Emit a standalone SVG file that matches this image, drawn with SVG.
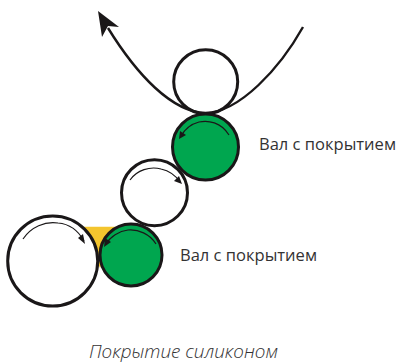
<svg xmlns="http://www.w3.org/2000/svg" width="396" height="363" viewBox="0 0 396 363">
<style>
.roll{stroke:#1a1718;stroke-width:3}
.white{fill:#fff}
.green{fill:#00a64f}
.rot{fill:none;stroke:#1a1718;stroke-width:1.2}
.head{fill:#1a1718}
text{font-family:"Open Sans","Noto Sans",sans-serif;fill:#333233}
.lab{font-size:16px}
.cap{font-size:18.500px;font-style:italic;font-weight:300}
</style>
<rect width="396" height="363" fill="#fff"/>
<g id="silicone"><path d="M83 226.7H116L100 268Z" fill="#f4c52e"/></g>
<g id="roller-top"><circle class="roll white" cx="205.7" cy="81.7" r="32"/></g>
<g id="roller-coated-1"><circle class="roll green" cx="205.5" cy="147" r="33"/></g>
<g id="roller-middle"><circle class="roll white" cx="154.5" cy="192.7" r="33"/></g>
<g id="roller-coated-2"><circle class="roll green" cx="131" cy="255" r="31"/></g>
<g id="roller-large"><circle class="roll white" cx="52.7" cy="261" r="45"/></g>
<g id="connectors">
<path d="M303 27C280 68 240 112 205.500 113C172 112 137 75 108 28" fill="none" stroke="#1a1718" stroke-width="2.400"/>
<path class="head" d="M98 11L119 27L108 26L102 37Z"/>
<path class="rot" d="M229 135C221 122 208 120 199 122C191 124 185 129 181 136"/>
<path class="head" d="M179 139L180 131L186 135Z"/>
<path class="rot" d="M130 180C137 170 150 166 161 169C170 171 176 176 180 182"/>
<path class="head" d="M182 184L174 181L179 176Z"/>
<path class="rot" d="M23 239C31 227 45 221 58 223C70 224 79 232 84 241"/>
<path class="head" d="M85 244L78 238L83 234Z"/>
<path class="rot" d="M156 244C150 234 138 229 128 230C119 231 110 237 106 244"/>
<path class="head" d="M104 247L105 238L111 242Z"/>
</g>
<g id="labels">
<text class="lab" x="259" y="150" textLength="137" lengthAdjust="spacingAndGlyphs">Вал с покрытием</text>
<text class="lab" x="180" y="261" textLength="137" lengthAdjust="spacingAndGlyphs">Вал с покрытием</text>
<text class="cap" x="89" y="358" textLength="189" lengthAdjust="spacingAndGlyphs">Покрытие силиконом</text>
</g>
</svg>
